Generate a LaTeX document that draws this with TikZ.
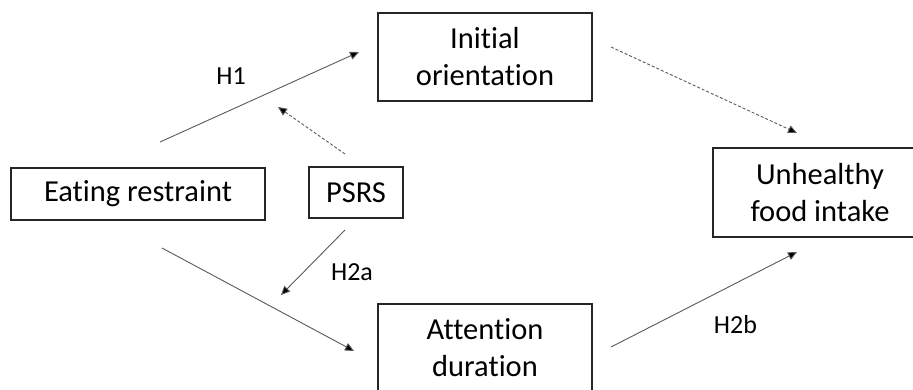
\documentclass[tikz,border=0pt]{standalone}
\usepackage{fontspec}
\setmainfont[Ligatures=NoCommon]{Carlito}
\usetikzlibrary{arrows.meta}
\begin{document}
\begin{tikzpicture}[x=1pt,y=-1pt,
  box/.style={draw=black!85,line width=1.4pt,rectangle,align=center,inner sep=0pt,
    font=\fontsize{30.5}{37}\selectfont,text=black},
  lbl/.style={font=\fontsize{26}{30}\selectfont,text=black,inner sep=0pt},
  conn/.style={draw=black!65,line width=0.9pt,-{Triangle[length=9pt,width=8pt,fill=black]}},
  dconn/.style={conn,dash pattern=on 3pt off 2pt}]
\useasboundingbox (0,0) rectangle (913,389);
\clip (0,0) rectangle (913,389);
\node[box,minimum width=254pt,minimum height=52pt] (er) at (138,194) {Eating restraint};
\node[box,minimum width=94pt,minimum height=51pt] (psrs) at (356,192.5) {PSRS};
\node[box,minimum width=214pt,minimum height=88pt] (io) at (485,57) {Initial\\orientation};
\node[box,minimum width=214pt,minimum height=88pt] (ad) at (485,348) {Attention\\duration};
\node[box,minimum width=214pt,minimum height=89pt] (ufi) at (820,192.5) {Unhealthy\\food intake};
\coordinate (h1s) at (160,142);
\coordinate (h1e) at (359,52);
\coordinate (ps1) at (345,154);
\coordinate (pe1) at (278,107);
\coordinate (ps2) at (345,230);
\coordinate (pe2) at (281,295);
\coordinate (lws) at (162,248);
\coordinate (lwe) at (354,351);
\coordinate (trs) at (611,47);
\coordinate (tre) at (797,133);
\coordinate (brs) at (611,347);
\coordinate (bre) at (797,252);
\draw[conn] (h1s) -- (h1e);
\draw[dconn] (ps1) -- (pe1);
\draw[conn] (ps2) -- (pe2);
\draw[conn] (lws) -- (lwe);
\draw[dconn] (trs) -- (tre);
\draw[conn] (brs) -- (bre);
\node[lbl] (lh1) at (231,76) {H1};
\node[lbl] (lh2a) at (352,272) {H2a};
\node[lbl] (lh2b) at (735.5,325) {H2b};
\end{tikzpicture}
\end{document}
